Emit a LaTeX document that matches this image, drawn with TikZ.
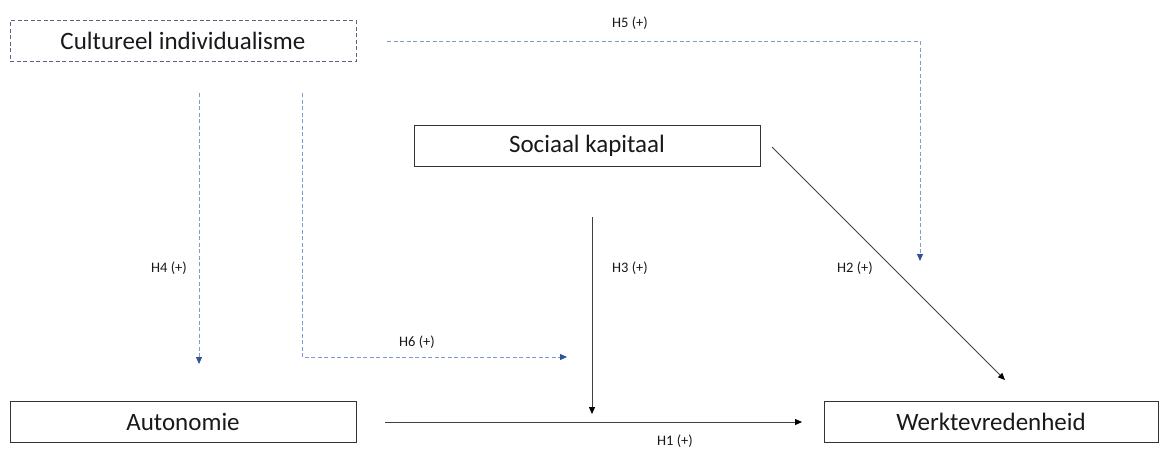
\documentclass[tikz,border=0pt]{standalone}
\usepackage{fontspec}
\setmainfont{Carlito}
\usetikzlibrary{arrows.meta}
\definecolor{dashblue}{HTML}{7F9BCF}
\definecolor{boxblue}{HTML}{5A6480}
\definecolor{tipblue}{HTML}{2F5597}
\definecolor{solidgray}{HTML}{404040}
\tikzset{
  varbox/.style={draw=black!80, line width=1pt, minimum height=41pt, inner sep=0pt, font=\fontsize{25}{30}\selectfont, text=black!90},
  modbox/.style={varbox, draw=boxblue, line width=0.9pt, dash pattern=on 4pt off 2.5pt},
  dasharrow/.style={draw=dashblue, line width=0.8pt, dash pattern=on 4pt off 2.5pt, -{Triangle[length=7pt,width=6pt,color=tipblue,fill=tipblue]}},
  solidarrow/.style={draw=solidgray, line width=0.8pt, -{Triangle[length=7pt,width=6pt,color=black,fill=black]}},
  hlabel/.style={font=\fontsize{14.5}{17}\selectfont, text=black!90, inner sep=0pt}
}
\begin{document}
\begin{tikzpicture}[x=1pt,y=-1pt]
\useasboundingbox (0,0) rectangle (1160,448);
% boxes
\node[modbox, minimum width=346pt] (ci) at (183,41) {Cultureel individualisme};
\node[varbox, minimum width=346pt] (sk) at (587,145.5) {Sociaal kapitaal};
\node[varbox, minimum width=346pt] (au) at (183,421.5) {Autonomie};
\node[varbox, minimum width=334pt] (wt) at (991,421.5) {Werktevredenheid};
% coordinates
\coordinate (h5s) at (387,41);
\coordinate (h5c) at (920,41);
\coordinate (h5e) at (920,261);
\coordinate (h4s) at (199,93);
\coordinate (h4e) at (199,364);
\coordinate (h6s) at (302,93);
\coordinate (h6c) at (302,357);
\coordinate (h6e) at (567,357);
\coordinate (h3s) at (592,217);
\coordinate (h3e) at (592,414);
\coordinate (h2s) at (772,147);
\coordinate (h2e) at (1005,380);
\coordinate (h1s) at (385,422);
\coordinate (h1e) at (802,422);
% connectors
\draw[dasharrow] (h5s) -- (h5c) -- (h5e);
\draw[dasharrow] (h4s) -- (h4e);
\draw[dasharrow] (h6s) -- (h6c) -- (h6e);
\draw[solidarrow] (h3s) -- (h3e);
\draw[solidarrow] (h2s) -- (h2e);
\draw[solidarrow] (h1s) -- (h1e);
% labels
\node[hlabel] (l5) at (630,23) {H5 (+)};
\node[hlabel] (l4) at (169,268) {H4 (+)};
\node[hlabel] (l6) at (417,342) {H6 (+)};
\node[hlabel] (l3) at (630,268) {H3 (+)};
\node[hlabel] (l2) at (855,268) {H2 (+)};
\node[hlabel] (l1) at (675,441) {H1 (+)};
\end{tikzpicture}
\end{document}
